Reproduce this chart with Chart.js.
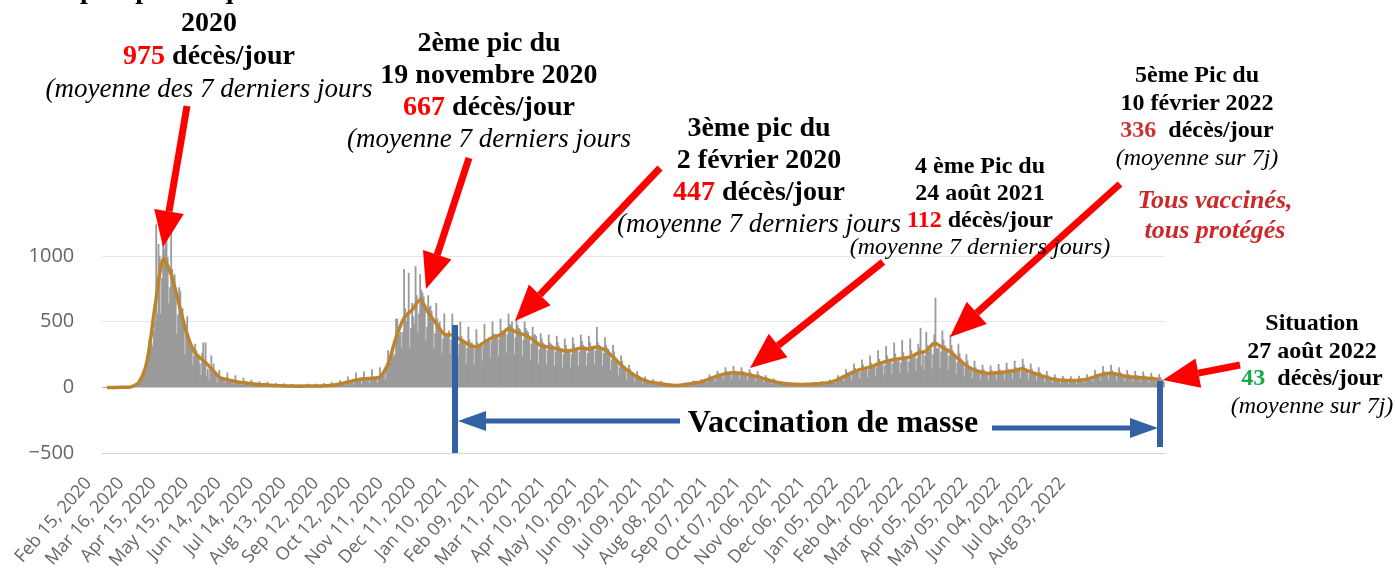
<!DOCTYPE html>
<html lang="fr">
<head>
<meta charset="utf-8">
<title>Décès quotidiens Covid-19</title>
<script src="https://cdn.jsdelivr.net/npm/chart.js@4.4.1/dist/chart.umd.min.js"></script>
<style>
  html, body { margin: 0; padding: 0; background: #fff; }
  #wrap { position: relative; width: 1395px; height: 569px; overflow: hidden; }
  #chart { position: absolute; left: 0; top: 0; }
  .note { position: absolute; transform: translateX(-50%); text-align: center; white-space: nowrap;
          font-family: 'Liberation Serif', 'Times New Roman', serif; font-weight: bold; color: #000; }
  .note i { font-weight: normal; }
  .red   { color: #ff0000; }
  .dred  { color: #cc3333; }
  .green { color: #1aa84a; }
  .slogan { font-style: italic; color: #cc2929; }
</style>
</head>
<body>
<div id="wrap">
  <canvas id="chart" width="1395" height="569"></canvas>

  <div class="note" style="left:209px; top:-28px; font-size:28px; line-height:33px">
    1er pic épidémique du 8 avril<br>2020<br><span class="red">975</span> décès/jour<br><i style="font-size:27px">(moyenne des 7 derniers jours</i>
  </div>
  <div class="note" style="left:489px; top:26px; font-size:28px; line-height:32px">
    2ème pic du<br>19 novembre 2020<br><span class="red">667</span> décès/jour<br><i style="font-size:27px">(moyenne 7 derniers jours</i>
  </div>
  <div class="note" style="left:759px; top:111px; font-size:28px; line-height:32px">
    3ème pic du<br>2 février 2020<br><span class="red">447</span> décès/jour<br><i style="font-size:27px">(moyenne 7 derniers jours</i>
  </div>
  <div class="note" style="left:980px; top:152px; font-size:24px; line-height:27px">
    4 ème Pic du<br>24 août 2021<br><span class="red">112</span> décès/jour<br><i>(moyenne 7 derniers jours)</i>
  </div>
  <div class="note" style="left:1197px; top:61px; font-size:24px; line-height:27.5px">
    5ème Pic du<br>10 février 2022<br><span class="dred">336</span>&nbsp; décès/jour<br><i>(moyenne sur 7j)</i>
  </div>
  <div class="note slogan" style="left:1215px; top:185px; font-size:26px; line-height:30px">
    Tous vaccinés,<br>tous protégés
  </div>
  <div class="note" style="left:1312px; top:309px; font-size:24px; line-height:27.5px">
    Situation<br>27 août 2022<br><span class="green">43</span>&nbsp; décès/jour<br><i>(moyenne sur 7j)</i>
  </div>
  <div class="note" style="left:833px; top:401px; font-size:32px; line-height:40px">
    Vaccination de masse
  </div>
</div>

<script>
'use strict';

// ── Data ──────────────────────────────────────────────────────────────────────
// daily deaths, one row per week, starting Sat 15 Feb 2020
const deaths = [
  0,0,0,0,0,0,0,
  0,0,0,0,0,1,0,
  1,0,1,0,1,2,2,
  2,2,3,3,4,6,9,
  12,16,21,27,46,69,95,
  112,129,186,240,231,365,299,
  340,310,430,500,1240,560,1090,
  1000,560,830,1180,1050,1100,1150,
  990,640,760,1220,900,790,860,
  740,400,550,760,730,520,600,
  470,250,400,540,410,340,300,
  290,170,240,330,280,220,240,
  180,90,260,340,180,340,80,
  140,60,160,240,110,180,100,
  90,35,70,130,80,60,70,
  55,30,50,110,60,60,50,
  45,20,30,90,40,45,40,
  30,15,25,70,30,35,30,
  25,10,20,55,30,25,28,
  20,8,15,45,25,20,22,
  15,6,12,40,18,15,18,
  12,5,10,30,14,12,15,
  10,4,8,28,12,10,12,
  9,3,7,24,10,9,10,
  8,3,6,22,9,8,9,
  9,3,7,25,10,8,10,
  10,4,8,26,11,9,11,
  11,4,9,30,12,10,12,
  14,5,12,38,16,15,16,
  22,8,18,52,30,26,25,
  35,12,30,80,45,40,42,
  48,20,45,110,55,55,52,
  55,25,55,120,70,65,62,
  60,28,60,135,75,70,65,
  70,30,70,150,90,80,85,
  140,60,130,280,200,190,260,
  300,230,250,520,520,440,400,
  420,300,420,900,600,500,560,
  870,300,450,640,540,480,920,
  700,420,560,860,740,720,690,
  600,350,460,700,610,620,580,
  520,290,410,640,520,480,500,
  440,260,370,560,400,390,410,
  430,250,360,560,420,400,380,
  380,230,330,500,390,360,360,
  320,180,300,460,360,330,340,
  300,170,290,440,340,300,320,
  340,200,310,480,360,360,350,
  380,220,350,500,410,400,400,
  400,240,370,520,430,420,410,
  440,260,400,560,480,470,500,
  420,250,380,520,470,450,440,
  400,230,360,500,450,430,420,
  360,210,330,460,400,400,390,
  320,180,290,410,370,340,330,
  300,170,280,400,340,330,320,
  290,160,270,390,340,310,300,
  270,150,250,370,320,290,290,
  280,150,250,380,330,300,290,
  300,160,270,400,350,320,310,
  290,160,260,390,340,310,300,
  300,170,280,460,340,320,300,
  280,160,260,380,320,300,290,
  240,130,210,320,270,230,220,
  170,90,150,240,200,170,160,
  120,60,110,170,140,120,110,
  80,40,70,120,90,80,75,
  50,25,45,80,60,50,45,
  35,18,30,60,40,35,32,
  28,14,24,48,32,27,25,
  18,10,15,30,22,17,16,
  14,8,12,25,18,14,14,
  20,10,18,35,26,22,22,
  30,14,26,50,38,33,32,
  38,18,32,60,48,42,42,
  60,30,55,95,80,70,68,
  85,45,75,125,105,90,90,
  100,55,90,150,120,110,110,
  105,60,95,160,125,115,115,
  105,60,95,150,120,115,110,
  90,50,85,135,110,100,95,
  80,45,70,120,95,85,80,
  60,32,52,90,72,65,62,
  44,24,38,65,52,47,45,
  30,16,26,45,36,31,30,
  25,13,21,38,30,26,24,
  22,11,18,34,26,22,21,
  22,11,18,34,27,22,21,
  25,12,21,38,30,26,24,
  30,14,25,46,36,31,28,
  38,18,32,58,46,38,36,
  58,28,50,90,72,60,60,
  88,42,75,135,110,90,90,
  115,55,100,180,145,125,120,
  135,65,115,210,170,145,140,
  150,75,130,240,185,160,145,
  170,85,150,280,215,180,165,
  190,95,165,310,240,200,185,
  200,100,180,340,255,215,195,
  210,105,185,360,265,225,205,
  220,110,195,370,280,235,215,
  250,125,220,330,300,451,160,
  270,130,240,420,320,290,270,
  290,140,250,400,680,300,290,
  300,150,270,430,360,320,300,
  270,130,240,400,320,280,260,
  220,100,190,330,260,220,200,
  170,80,150,250,200,160,150,
  130,65,120,200,150,130,120,
  115,55,100,170,135,115,105,
  105,52,95,165,130,105,100,
  112,55,100,175,135,115,105,
  118,58,105,185,140,120,110,
  128,62,115,200,150,130,120,
  140,68,125,215,170,140,130,
  115,56,100,180,140,115,105,
  95,46,85,150,115,95,85,
  75,36,66,120,90,75,68,
  60,30,52,95,72,60,55,
  54,26,48,85,65,54,48,
  52,25,46,82,62,52,46,
  54,26,48,86,65,54,48,
  62,30,55,98,75,62,55,
  80,40,72,130,98,82,72,
  98,48,88,160,120,100,88,
  105,52,95,170,128,105,95,
  95,46,85,150,115,95,85,
  82,40,72,130,100,82,72,
  76,38,68,122,92,76,68,
  72,35,64,118,88,72,62,
  66,32,60,108,82,66,58,
  62,30,55,100,76,62,52,
  43
];

// 7-day average, one value per week (read at mid-week)
const avg7 = [
  0, 0, 1, 4, 40, 200, 620, 975, 860, 630, 400, 260, 205, 145, 78, 58,
  45, 35, 28, 22, 18, 14, 12, 10, 9, 10, 11, 13, 17, 26, 41, 55,
  65, 70, 80, 180, 380, 530, 590, 667, 570, 485, 405, 398, 365, 327, 308, 343,
  380, 400, 447, 420, 400, 364, 320, 306, 295, 277, 283, 300, 292, 308, 284, 232,
  170, 120, 80, 51, 36, 28, 18, 15, 22, 32, 41, 65, 88, 105, 112, 108,
  95, 82, 62, 45, 31, 25, 22, 22, 25, 30, 38, 60, 90, 120, 140, 155,
  178, 198, 212, 222, 232, 262, 278, 336, 304, 270, 217, 166, 131, 114, 107, 114,
  119, 129, 141, 116, 96, 76, 61, 54, 52, 54, 62, 82, 100, 107, 96, 83,
  77, 73, 67, 62
];

// axis labels, one every 30 days
const xLabels = [
  'Feb 15, 2020', 'Mar 16, 2020', 'Apr 15, 2020', 'May 15, 2020', 'Jun 14, 2020',
  'Jul 14, 2020', 'Aug 13, 2020', 'Sep 12, 2020', 'Oct 12, 2020', 'Nov 11, 2020',
  'Dec 11, 2020', 'Jan 10, 2021', 'Feb 09, 2021', 'Mar 11, 2021', 'Apr 10, 2021',
  'May 10, 2021', 'Jun 09, 2021', 'Jul 09, 2021', 'Aug 08, 2021', 'Sep 07, 2021',
  'Oct 07, 2021', 'Nov 06, 2021', 'Dec 06, 2021', 'Jan 05, 2022', 'Feb 04, 2022',
  'Mar 06, 2022', 'Apr 05, 2022', 'May 05, 2022', 'Jun 04, 2022', 'Jul 04, 2022',
  'Aug 03, 2022'
];
const yTicks = [-500, 0, 500, 1000];

// ── Annotations (pixel positions on the canvas) ───────────────────────────────
const redArrows = [
  [187, 106, 163, 247],
  [469, 158, 426, 289],
  [660, 168, 515, 321],
  [883, 262, 750, 368],
  [1120, 184, 950, 337],
  [1240, 365, 1163, 380],
];

function arrow(ctx, x1, y1, x2, y2, color, lw, hl, hw) {
  const a = Math.atan2(y2 - y1, x2 - x1);
  const bx = x2 - hl * Math.cos(a), by = y2 - hl * Math.sin(a);
  ctx.strokeStyle = color;
  ctx.lineWidth = lw;
  ctx.beginPath(); ctx.moveTo(x1, y1); ctx.lineTo(bx, by); ctx.stroke();
  ctx.fillStyle = color;
  ctx.beginPath();
  ctx.moveTo(x2, y2);
  ctx.lineTo(bx + hw / 2 * Math.sin(a), by - hw / 2 * Math.cos(a));
  ctx.lineTo(bx - hw / 2 * Math.sin(a), by + hw / 2 * Math.cos(a));
  ctx.closePath(); ctx.fill();
}

const overlay = {
  id: 'overlay',
  afterDraw(chart) {
    const ctx = chart.ctx;
    ctx.save();
    const blue = '#3262a3';
    ctx.fillStyle = blue;
    ctx.fillRect(452, 325, 6, 128);
    ctx.fillRect(1157, 381, 6, 66);
    arrow(ctx, 680, 421, 458, 421, blue, 5, 28, 20);
    arrow(ctx, 992, 428, 1158, 428, blue, 5, 28, 20);
    redArrows.forEach(a => arrow(ctx, a[0], a[1], a[2], a[3], '#ff0000', 7, 36, 30));
    ctx.restore();
  }
};

// ── Chart ─────────────────────────────────────────────────────────────────────
new Chart(document.getElementById('chart'), {
  type: 'bar',
  data: {
    datasets: [{
      type: 'line',
      data: avg7.map((v, i) => ({ x: i * 7 + 3, y: v })),
      borderColor: '#bd8430',
      borderWidth: 3.5,
      pointRadius: 0,
      tension: 0.3,
      order: 0,
    }, {
      data: deaths.map((v, i) => ({ x: i, y: v })),
      backgroundColor: '#9a9a9a',
      borderWidth: 0,
      barPercentage: 1,
      categoryPercentage: 1,
      order: 1,
    }]
  },
  options: {
    responsive: false,
    animation: false,
    layout: { padding: { top: 222, right: 230, left: 0, bottom: 0 } },
    plugins: { legend: { display: false }, tooltip: { enabled: false } },
    scales: {
      x: { type: 'linear', min: -1, max: 925, offset: false, display: false },
      // label axis: the source chart prints its date labels on a tighter grid than the data
      x2: {
        type: 'linear', position: 'bottom', min: 12.9, max: 995.1, offset: false,
        grid: { display: false, drawTicks: false, offset: false },
        border: { display: true, color: '#ccd6eb', width: 1 },
        afterBuildTicks: s => { s.ticks = xLabels.map((l, i) => ({ value: i * 30 })); },
        afterFit: s => { s.height = 116; },
        ticks: {
          autoSkip: false, maxRotation: 49, minRotation: 49, padding: 20,
          color: '#666', font: { family: "'Open Sans', sans-serif", size: 18 },
          callback: (v, i) => xLabels[i],
        },
      },
      y: {
        min: -500, max: 1260,
        afterBuildTicks: s => { s.ticks = yTicks.map(v => ({ value: v })); },
        afterFit: s => { s.width = 101; },
        grid: { color: '#e6e6e6', drawTicks: false },
        border: { display: false },
        ticks: {
          padding: 28, color: '#666',
          font: { family: "'Open Sans', sans-serif", size: 20 },
          callback: v => v < 0 ? '\u2212' + Math.abs(v) : String(v),
        },
      },
    },
  },
  plugins: [overlay],
});
</script>
</body>
</html>
